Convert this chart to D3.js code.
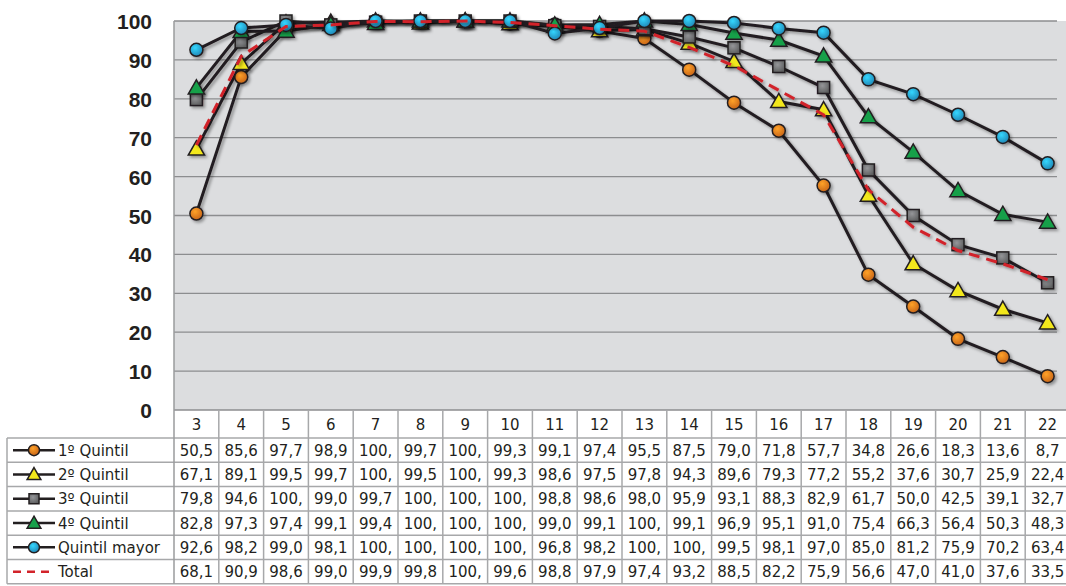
<!DOCTYPE html>
<html lang="es">
<head>
<meta charset="utf-8">
<title>Quintiles</title>
<script src="https://cdn.jsdelivr.net/npm/d3@7"></script>
<style>
  body { margin: 0; background: #fff; }
  .ylab { font-family: "Liberation Sans", Arial, sans-serif; font-weight: bold; font-size: 21px; fill: #231f20; }
  .cell { font-family: "DejaVu Sans", Verdana, sans-serif; font-size: 15px; fill: #231f20; }
</style>
</head>
<body>
<script>
// edades (columnas)
var ages = [3,4,5,6,7,8,9,10,11,12,13,14,15,16,17,18,19,20,21,22];
var yTicks = [0,10,20,30,40,50,60,70,80,90,100];

var names = ["1º Quintil", "2º Quintil", "3º Quintil", "4º Quintil", "Quintil mayor", "Total"];
var q1 = [50.5,85.6,97.7,98.9,100,99.7,100,99.3,99.1,97.4,95.5,87.5,79.0,71.8,57.7,34.8,26.6,18.3,13.6,8.7];
var q2 = [67.1,89.1,99.5,99.7,100,99.5,100,99.3,98.6,97.5,97.8,94.3,89.6,79.3,77.2,55.2,37.6,30.7,25.9,22.4];
var q3 = [79.8,94.6,100,99.0,99.7,100,100,100,98.8,98.6,98.0,95.9,93.1,88.3,82.9,61.7,50.0,42.5,39.1,32.7];
var q4 = [82.8,97.3,97.4,99.1,99.4,100,100,100,99.0,99.1,100,99.1,96.9,95.1,91.0,75.4,66.3,56.4,50.3,48.3];
var q5 = [92.6,98.2,99.0,98.1,100,100,100,100,96.8,98.2,100,100,99.5,98.1,97.0,85.0,81.2,75.9,70.2,63.4];
var total = [68.1,90.9,98.6,99.0,99.9,99.8,100,99.6,98.8,97.9,97.4,93.2,88.5,82.2,75.9,56.6,47.0,41.0,37.6,33.5];

var series = [q1, q2, q3, q4, q5, total];
var markers = ["circle", "triangle", "square", "triangle", "circle", "none"];
var colors = ["#f07a1e", "#f3e81c", "#707173", "#17a04a", "#27a2db", "#d2232a"];

var w = 1066, h = 586;
var left = 174, colW = 44.8;
var yTop = 21, yBot = 410;
var headH = 28, rowH = 24.3;
var tableLeft = 7;

var svg = d3.select("body").append("svg").attr("width", w).attr("height", h);

var defs = svg.append("defs");
var shadow = defs.append("filter").attr("id", "shadow")
    .attr("x", "-50%").attr("y", "-50%").attr("width", "200%").attr("height", "200%");
shadow.append("feDropShadow").attr("dx", 2).attr("dy", 2).attr("stdDeviation", 1.5)
    .attr("flood-color", "#000").attr("flood-opacity", 0.35);

// gradients for 3D looking markers
colors.forEach(function(c, i) {
  var g = defs.append("radialGradient").attr("id", "grad" + i)
      .attr("cx", "40%").attr("cy", "35%").attr("r", "65%");
  g.append("stop").attr("offset", "0%").attr("stop-color", d3.color(c).brighter(0.8));
  g.append("stop").attr("offset", "100%").attr("stop-color", d3.color(c).darker(0.5));
});

var x = d3.scaleBand().domain(ages).range([left, left + ages.length * colW]).padding(0);
var y = d3.scaleLinear().domain([0, 100]).range([yBot, yTop]);

// plot background
svg.append("rect").attr("x", left).attr("y", yTop)
    .attr("width", w - left).attr("height", yBot - yTop).attr("fill", "#dcdddf");

// grid lines
svg.append("g").selectAll("line").data(yTicks.filter(function(d) { return d > 0; }))
  .enter().append("line")
  .attr("x1", left).attr("x2", w - 9)
  .attr("y1", function(d) { return y(d); }).attr("y2", function(d) { return y(d); })
  .attr("stroke", "#8c8d8f").attr("stroke-width", 1.3);

// y axis labels
var yAxis = d3.axisLeft(y).tickValues(yTicks).tickSize(0).tickPadding(22);
var ga = svg.append("g").attr("transform", "translate(" + left + ",0)").call(yAxis);
ga.select(".domain").remove();
ga.selectAll("text").attr("class", "ylab").attr("fill", null).attr("dy", "0.36em");

// table
var gridCol = "#a7a8aa";
var tableBottom = yBot + headH + rowH * names.length;
var tbl = svg.append("g");
// horizontal lines
tbl.append("line").attr("x1", left).attr("x2", w).attr("y1", yBot).attr("y2", yBot)
    .attr("stroke", "#8c8d8f").attr("stroke-width", 1.5);
d3.range(names.length + 1).forEach(function(r) {
  var yy = yBot + headH + r * rowH;
  tbl.append("line").attr("x1", tableLeft).attr("x2", w).attr("y1", yy).attr("y2", yy)
    .attr("stroke", gridCol).attr("stroke-width", 1.5);
});
// vertical lines
tbl.append("line").attr("x1", tableLeft).attr("x2", tableLeft)
    .attr("y1", yBot + headH).attr("y2", tableBottom).attr("stroke", gridCol).attr("stroke-width", 1.5);
ages.forEach(function(a) {
  tbl.append("line").attr("x1", x(a)).attr("x2", x(a))
    .attr("y1", x(a) === left ? yTop : yBot).attr("y2", tableBottom)
    .attr("stroke", x(a) === left ? "#9a9b9d" : gridCol).attr("stroke-width", 1.5);
});

// header labels
tbl.selectAll("text.head").data(ages).enter().append("text")
  .attr("class", "cell head")
  .attr("x", function(d) { return x(d) + colW / 2; })
  .attr("y", yBot + headH / 2 + 5.5)
  .attr("text-anchor", "middle")
  .text(function(d) { return d; });

// cell values as the spreadsheet shows them (cut to 4 chars)
function fmt(v) {
  return v.toFixed(1).replace(".", ",").slice(0, 4);
}

series.forEach(function(s, si) {
  var ry = yBot + headH + si * rowH + rowH / 2 + 5.5;
  tbl.selectAll("text.r" + si).data(s).enter().append("text")
    .attr("class", "cell r" + si)
    .attr("x", function(d, i) { return x(ages[i]) + colW / 2; })
    .attr("y", ry)
    .attr("text-anchor", "middle")
    .text(fmt);
  tbl.append("text").attr("class", "cell").attr("x", 58).attr("y", ry).text(names[si]);
});

// marker drawing
function drawMarker(g, type, cx, cy, si, size) {
  var fill = "url(#grad" + si + ")";
  if (type === "circle") {
    g.append("circle").attr("cx", cx).attr("cy", cy).attr("r", size)
      .attr("fill", fill).attr("stroke", "#231f20").attr("stroke-width", 1.5);
  } else if (type === "square") {
    g.append("rect").attr("x", cx - size).attr("y", cy - size)
      .attr("width", size * 2).attr("height", size * 2)
      .attr("fill", fill).attr("stroke", "#231f20").attr("stroke-width", 1.5);
  } else if (type === "triangle") {
    var s = size * 1.25;
    g.append("path")
      .attr("d", "M" + cx + "," + (cy - s) + "L" + (cx + s) + "," + (cy + s * 0.75) + "L" + (cx - s) + "," + (cy + s * 0.75) + "Z")
      .attr("fill", colors[si]).attr("stroke", "#231f20").attr("stroke-width", 1.5);
  }
}

// legend icons
series.forEach(function(s, si) {
  var cy = yBot + headH + si * rowH + rowH / 2;
  var lg = svg.append("g");
  if (si === 5) {
    lg.append("line").attr("x1", 13).attr("x2", 55).attr("y1", cy).attr("y2", cy)
      .attr("stroke", colors[si]).attr("stroke-width", 2.5).attr("stroke-dasharray", "8,6");
  } else {
    lg.append("line").attr("x1", 13).attr("x2", 55).attr("y1", cy).attr("y2", cy)
      .attr("stroke", "#231f20").attr("stroke-width", 2.5);
    drawMarker(lg, markers[si], 34, cy, si, markers[si] === "square" ? 5 : 5.5);
  }
});

// lines
var line = d3.line()
  .x(function(d, i) { return x(ages[i]) + colW / 2; })
  .y(function(d) { return y(d); });

var plot = svg.append("g");
series.slice(0, 5).forEach(function(s) {
  plot.append("path").datum(s).attr("d", line)
    .attr("fill", "none").attr("stroke", "#231f20").attr("stroke-width", 3)
    .attr("filter", "url(#shadow)");
});

series.slice(0, 5).forEach(function(s, si) {
  var mg = plot.append("g").attr("filter", "url(#shadow)");
  s.forEach(function(v, i) {
    drawMarker(mg, markers[si], x(ages[i]) + colW / 2, y(v), si, markers[si] === "square" ? 6 : 6.5);
  });
});

plot.append("path").datum(total).attr("d", line)
  .attr("fill", "none").attr("stroke", colors[5]).attr("stroke-width", 3)
  .attr("stroke-dasharray", "11,7").attr("filter", "url(#shadow)");
</script>
</body>
</html>
